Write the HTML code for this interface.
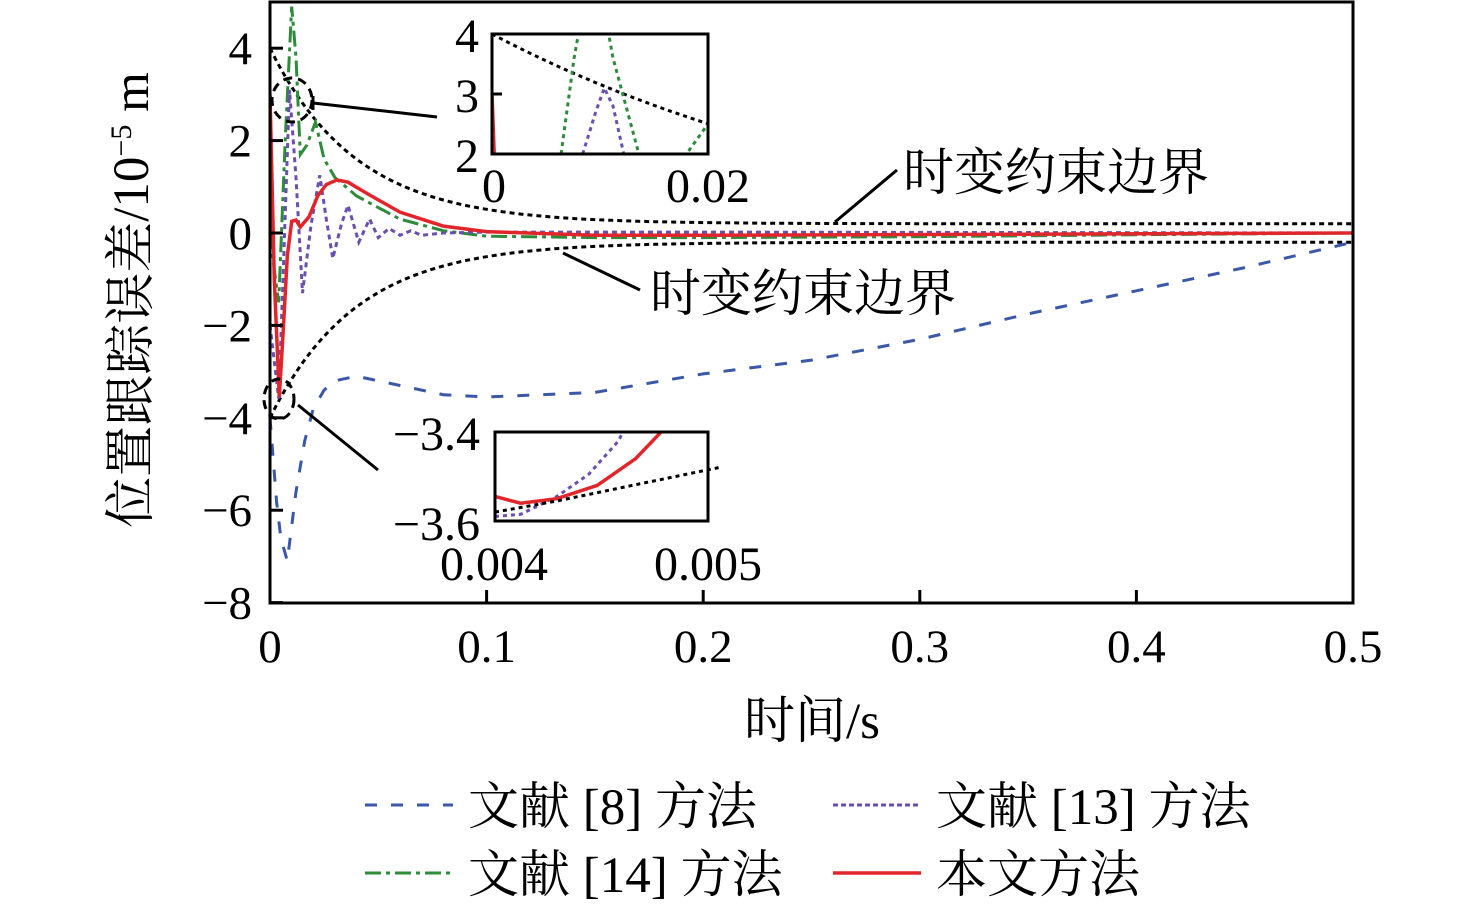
<!DOCTYPE html>
<html><head><meta charset="utf-8"><style>
html,body{margin:0;padding:0;background:#fff;}
svg{display:block;font-family:"Liberation Serif","Noto Serif CJK SC",serif;}
</style></head><body>
<svg id="chart" width="1476" height="909" viewBox="0 0 1476 909">
<g id="plot"></g>
</svg>
<script>
// ---- main data ----
const tBlue = [0,0.003,0.005,0.008,0.012,0.016,0.02,0.025,0.03,0.04,0.06,0.08,0.1,0.15,0.2,0.25,0.3,0.35,0.4,0.45,0.5];
const vBlue = [-4,-5.8,-6.6,-7.1,-5.6,-4.5,-3.8,-3.4,-3.2,-3.1,-3.3,-3.5,-3.55,-3.45,-3.05,-2.75,-2.3,-1.75,-1.25,-0.75,-0.2];
const tPurple = [0,0.004,0.006,0.009,0.012,0.015,0.019,0.023,0.026,0.029,0.033,0.036,0.041,0.046,0.05,0.055,0.06,0.065,0.07,0.08,0.1,0.2,0.5];
const vPurple = [-2,-3.58,-1,3.1,1.2,-1.3,0.2,1.25,0.3,-0.55,0.2,0.6,-0.2,0.3,-0.1,0.1,-0.05,0.05,-0.05,0,0.02,0.02,0];
const tGreen = [0,0.002,0.004,0.007,0.01,0.012,0.014,0.017,0.021,0.025,0.03,0.04,0.06,0.08,0.1,0.15,0.2,0.3,0.4,0.5];
const vGreen = [0,-0.8,-1.5,2,4.9,3.8,1.7,1.9,2.4,1.6,1.2,0.8,0.3,0.05,-0.07,-0.1,-0.1,-0.08,-0.04,0];
const tRed = [0,0.002,0.0043,0.006,0.008,0.01,0.012,0.014,0.018,0.022,0.026,0.031,0.036,0.045,0.06,0.08,0.1,0.15,0.2,0.5];
const vRed = [3,-1,-3.55,-2.2,-0.5,0.25,0.28,0.13,0.35,0.8,1.05,1.15,1.1,0.85,0.45,0.15,0.03,-0.05,-0.05,0];
const xTicks = [0,0.1,0.2,0.3,0.4,0.5];
const xTickLabels = ["0","0.1","0.2","0.3","0.4","0.5"];
const yTicks = [4,2,0,-2,-4,-6,-8];
const yTickLabels = ["4","2","0","\u22122","\u22124","\u22126","\u22128"];
// inset 1 (0..0.02, 2..4)
const i1RedT = [0,0.0002]; const i1RedV = [3,2];
const i1GreenT = [0.0064,0.0076,0.0082]; const i1GreenV = [2,3.6,4.2];
const i1Green2T = [0.0106,0.0112,0.0136]; const i1Green2V = [4.2,3.6,2];
const i1Green3T = [0.0182,0.0198]; const i1Green3V = [2.05,2.45];
const i1PurpleT = [0.0084,0.0096,0.0104,0.0112,0.0122]; const i1PurpleV = [2,2.7,3.1,2.8,2];
// inset 2 (0.004..0.005, -3.6..-3.4)
const i2RedT = [0.004,0.00412,0.00429,0.00448,0.00466,0.00478]; const i2RedV = [-3.545,-3.56,-3.55,-3.52,-3.46,-3.4];
const i2PurpleT = [0.004,0.00412,0.00429,0.00444,0.00458,0.0046]; const i2PurpleV = [-3.59,-3.585,-3.545,-3.495,-3.42,-3.4];
const i2BlackT = [0.004,0.00429,0.00505]; const i2BlackV = [-3.58,-3.555,-3.48];

const NS="http://www.w3.org/2000/svg";
const g=document.getElementById('plot');
function el(tag,attrs,parent){const e=document.createElementNS(NS,tag);for(const k in attrs)e.setAttribute(k,attrs[k]);(parent||g).appendChild(e);return e;}
const X0=270,X1=1353,Y0=233,YU=46.2;
const sx=t=>X0+t/0.5*(X1-X0);
const sy=v=>Y0-v*YU;
function bound(t,s){return s*(0.2+3.8*Math.exp(-t/0.04));}
function pathD(ts,vs,fx,fy){return ts.map((t,i)=>(i?'L':'M')+fx(t).toFixed(1)+','+fy(vs[i]).toFixed(1)).join(' ');}

const defs=el('defs',{});
const cp=el('clipPath',{id:'mainclip'},defs);el('rect',{x:X0,y:2,width:X1-X0,height:601},cp);
const cp1=el('clipPath',{id:'clip1'},defs);el('rect',{x:492,y:34,width:216,height:120},cp1);
const cp2=el('clipPath',{id:'clip2'},defs);el('rect',{x:495,y:432,width:213,height:89},cp2);

const series=el('g',{'clip-path':'url(#mainclip)'});


const bt=[];for(let i=0;i<=200;i++)bt.push(i*0.0025);
const ub=el('path',{d:pathD(bt,bt.map(t=>bound(t,1)),sx,sy),fill:'none',stroke:'#000','stroke-width':3,'stroke-dasharray':'5 4'},series);


const lb=el('path',{d:pathD(bt,bt.map(t=>bound(t,-1)),sx,sy),fill:'none',stroke:'#000','stroke-width':3,'stroke-dasharray':'5 4'},series);


const pb=el('path',{d:pathD(tBlue,vBlue,sx,sy),fill:'none',stroke:'#3a57a8','stroke-width':3,'stroke-dasharray':'12 14'},series);


const pg=el('path',{d:pathD(tGreen,vGreen,sx,sy),fill:'none',stroke:'#2e8b3a','stroke-width':3,'stroke-dasharray':'16 5 4 5'},series);


const pp=el('path',{d:pathD(tPurple,vPurple,sx,sy),fill:'none',stroke:'#6a4fb0','stroke-width':3,'stroke-dasharray':'5 4'},series);


const pr=el('path',{d:pathD(tRed,vRed,sx,sy),fill:'none',stroke:'#e0262b','stroke-width':3.5},series);



const fr=el('rect',{x:X0,y:2,width:X1-X0,height:601,fill:'none',stroke:'#000','stroke-width':3});


xTicks.forEach((t,i)=>{
  el('line',{x1:sx(t),x2:sx(t),y1:603,y2:590,stroke:'#000','stroke-width':3});
  const tx=el('text',{x:sx(t),y:662,'font-size':47,'text-anchor':'middle'});tx.textContent=xTickLabels[i];
  
  
});
yTicks.forEach((v,i)=>{
  el('line',{x1:X0,x2:X0+13,y1:sy(v),y2:sy(v),stroke:'#000','stroke-width':3});
  const tx=el('text',{x:252,y:sy(v)+16,'font-size':47,'text-anchor':'end'});tx.textContent=yTickLabels[i];
  
  
});
const xt=el('text',{x:812,y:738,'font-size':51,'text-anchor':'middle'});xt.textContent='时间/s';


const yt=el('text',{x:0,y:0,'font-size':51,'text-anchor':'middle',transform:'translate(148,300) rotate(-90)'});
yt.innerHTML='位置跟踪误差/10<tspan dy="-17" font-size="30">−5</tspan><tspan dy="17"> m</tspan>';



el('ellipse',{cx:292,cy:100,rx:20,ry:22,fill:'none',stroke:'#000','stroke-width':3,'stroke-dasharray':'9 6'});
el('line',{x1:313,y1:103,x2:437,y2:117,stroke:'#000','stroke-width':3});
el('line',{x1:313,y1:96,x2:313,y2:110,stroke:'#000','stroke-width':3});
el('ellipse',{cx:279,cy:399,rx:15,ry:20,fill:'none',stroke:'#000','stroke-width':3,'stroke-dasharray':'9 6'});
el('line',{x1:298,y1:405,x2:378,y2:470,stroke:'#000','stroke-width':3});
el('line',{x1:835,y1:222,x2:897,y2:170,stroke:'#000','stroke-width':3});
el('line',{x1:563,y1:253,x2:640,y2:290,stroke:'#000','stroke-width':3});
const a1=el('text',{x:903,y:190,'font-size':51});a1.textContent='时变约束边界';


const a2=el('text',{x:650,y:311,'font-size':51});a2.textContent='时变约束边界';



const ix1=t=>492+t/0.02*216, iy1=v=>154-(v-2)/2*120;
const in1=el('g',{});


el('rect',{x:492,y:34,width:216,height:120,fill:'#fff'},in1);
const c1=el('g',{'clip-path':'url(#clip1)'},in1);
const bt1=[];for(let i=0;i<=40;i++)bt1.push(i*0.0005);
el('path',{d:pathD(bt1,bt1.map(t=>bound(t,1)),ix1,iy1),fill:'none',stroke:'#000','stroke-width':3,'stroke-dasharray':'4 4'},c1);
[[i1GreenT,i1GreenV],[i1Green2T,i1Green2V],[i1Green3T,i1Green3V]].forEach(a=>el('path',{d:pathD(a[0],a[1],ix1,iy1),fill:'none',stroke:'#2e8b3a','stroke-width':3,'stroke-dasharray':'4 4'},c1));
el('path',{d:pathD(i1PurpleT,i1PurpleV,ix1,iy1),fill:'none',stroke:'#6a4fb0','stroke-width':3,'stroke-dasharray':'4 4'},c1);
el('path',{d:pathD(i1RedT,i1RedV,ix1,iy1),fill:'none',stroke:'#e0262b','stroke-width':3.5},c1);
el('rect',{x:492,y:34,width:216,height:120,fill:'none',stroke:'#000','stroke-width':3},in1);
[['4',52],['3',112],['2',172]].forEach(p=>{const t=el('text',{x:479,y:p[1],'font-size':48,'text-anchor':'end'},in1);t.textContent=p[0];});
el('line',{x1:492,x2:502,y1:94,y2:94,stroke:'#000','stroke-width':3},in1);
[['0',494],['0.02',708]].forEach(p=>{const t=el('text',{x:p[1],y:202,'font-size':48,'text-anchor':'middle'},in1);t.textContent=p[0];});

const ix2=t=>495+(t-0.004)/0.001*213, iy2=v=>521-(v+3.6)/0.2*89;
const in2=el('g',{});


el('rect',{x:495,y:432,width:213,height:89,fill:'#fff'},in2);
const c2=el('g',{'clip-path':'url(#clip2)'},in2);
el('path',{d:pathD(i2PurpleT,i2PurpleV,ix2,iy2),fill:'none',stroke:'#6a4fb0','stroke-width':3,'stroke-dasharray':'4 4'},c2);
el('path',{d:pathD(i2RedT,i2RedV,ix2,iy2),fill:'none',stroke:'#e0262b','stroke-width':3.5},c2);
el('path',{d:pathD(i2BlackT,i2BlackV,ix2,iy2),fill:'none',stroke:'#000','stroke-width':3,'stroke-dasharray':'4 4'},in2);
el('rect',{x:495,y:432,width:213,height:89,fill:'none',stroke:'#000','stroke-width':3},in2);
[['\u22123.4',450],['\u22123.6',540]].forEach(p=>{const t=el('text',{x:480,y:p[1],'font-size':48,'text-anchor':'end'},in2);t.textContent=p[0];});
[['0.004',494],['0.005',708]].forEach(p=>{const t=el('text',{x:p[1],y:580,'font-size':48,'text-anchor':'middle'},in2);t.textContent=p[0];});

const leg=[
 {x:365,y:805,c:'#3a57a8',d:'12 14',w:3,t:'文献 [8] 方法',n:'legend-ref8'},
 {x:833,y:805,c:'#6a4fb0',d:'5 3',w:3,t:'文献 [13] 方法',n:'legend-ref13'},
 {x:365,y:873,c:'#2e8b3a',d:'16 5 4 5',w:3,t:'文献 [14] 方法',n:'legend-ref14'},
 {x:833,y:873,c:'#e0262b',d:'none',w:3.5,t:'本文方法',n:'legend-proposed'}];
leg.forEach(L=>{
  const gg=el('g',{});
  
  
  el('line',{x1:L.x,x2:L.x+88,y1:L.y,y2:L.y,stroke:L.c,'stroke-width':L.w,'stroke-dasharray':L.d},gg);
  const t=el('text',{x:L.x+103,y:L.y+19,'font-size':51},gg);t.textContent=L.t;
});
</script>
</body></html>
